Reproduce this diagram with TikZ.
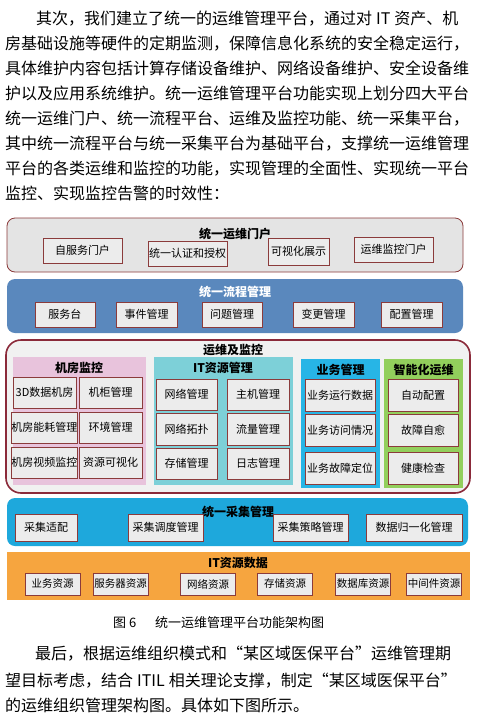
\documentclass[tikz,border=0pt]{standalone}
\usepackage{fontspec}
\usepackage{xcolor}
\newfontfamily\cjk{Noto Sans CJK SC}
\definecolor{brd}{HTML}{8B3B3B}
\definecolor{itemgray}{HTML}{ECECEC}
\definecolor{portalgray}{HTML}{E4E4E4}
\definecolor{flowblue}{HTML}{5A88BD}
\definecolor{monred}{HTML}{8B2A3A}
\definecolor{mongray}{HTML}{F1F1F1}
\definecolor{roompink}{HTML}{E8C3DC}
\definecolor{itteal}{HTML}{7DD0D8}
\definecolor{bizblue}{HTML}{27B5E6}
\definecolor{smartgreen}{HTML}{92CF5C}
\definecolor{collblue}{HTML}{1EA8DC}
\definecolor{dataorange}{HTML}{F6A53F}
% a little glue between CJK characters, so lines can be justified
\XeTeXinterchartokenstate=1
\XeTeXinterchartoks 1 1 = {\hskip 0pt plus 1pt}
\XeTeXinterchartoks 1 2 = {\hskip 0pt plus 1pt}
\XeTeXinterchartoks 1 3 = {\hskip 0pt plus 1pt}
\XeTeXinterchartoks 2 1 = {\hskip 0pt plus 1pt}
\XeTeXinterchartoks 3 1 = {\hskip 0pt plus 1pt}
\XeTeXinterchartoks 3 2 = {\hskip 0pt plus 1pt}
\XeTeXinterchartoks 3 3 = {\hskip 0pt plus 1pt}
\newcommand{\lsp}{\kern4pt}
\begin{document}
\begin{tikzpicture}[x=1pt, y=-1pt,
  para/.style={anchor=base west, inner sep=0pt, font=\cjk\fontsize{16}{16}\selectfont},
  item/.style={draw=brd, fill=itemgray, line width=0.8pt, inner sep=0pt,
    minimum width=#1, font=\cjk\fontsize{11}{11}\selectfont},
  title/.style={inner sep=0pt, font=\cjk\bfseries\fontsize{12}{12}\selectfont}]
\useasboundingbox (0,0) rectangle (481,721);
\fill[white] (0,0) rectangle (481,721);
% text above the figure
\node[para] (l1) at (36,24) {\makebox[434pt][s]{其次，我们建立了统一的运维管理平台，通过对\lsp IT\lsp 资产、机}};
\node[para] (l2) at (5,49) {\makebox[466pt][s]{房基础设施等硬件的定期监测，保障信息化系统的安全稳定运行，}};
\node[para] (l3) at (5,74) {\makebox[465pt][s]{具体维护内容包括计算存储设备维护、网络设备维护、安全设备维}};
\node[para] (l4) at (5,99) {\makebox[465pt][s]{护以及应用系统维护。统一运维管理平台功能实现上划分四大平台}};
\node[para] (l5) at (5,124) {\makebox[466pt][s]{统一运维门户、统一流程平台、运维及监控功能、统一采集平台，}};
\node[para] (l6) at (5,149) {\makebox[465pt][s]{其中统一流程平台与统一采集平台为基础平台，支撑统一运维管理}};
\node[para] (l7) at (5,174) {\makebox[465pt][s]{平台的各类运维和监控的功能，实现管理的全面性、实现统一平台}};
\node[para] (l8) at (5,199) {监控、实现监控告警的时效性：};
% unified portal
\draw[brd, fill=portalgray, line width=0.8pt, rounded corners=8pt] (7,218) rectangle (463,272);
\node[title] (portal) at (235,234) {统一运维门户};
\node[item=79pt, minimum height=25pt] (self) at (82.5,250.5) {自服务门户};
\node[item=79pt, minimum height=25pt] (auth) at (187.5,253.5) {统一认证和授权};
\node[item=61pt, minimum height=27pt] (vis) at (298.5,251.5) {可视化展示};
\node[item=79pt, minimum height=25pt] (monportal) at (393.5,249.5) {运维监控门户};
% unified process
\fill[flowblue, rounded corners=8pt] (7,279) rectangle (463,333);
\node[title, text=white] (flow) at (235,292) {统一流程管理};
\node[item=60pt, minimum height=25pt] (desk) at (65,314.5) {服务台};
\node[item=61pt, minimum height=25pt] (event) at (146.5,314.5) {事件管理};
\node[item=60pt, minimum height=25pt] (problem) at (232,314.5) {问题管理};
\node[item=61pt, minimum height=25pt] (change) at (323.5,314.5) {变更管理};
\node[item=61pt, minimum height=25pt] (config) at (411.5,314.5) {配置管理};
% operation and monitoring
\draw[monred, fill=mongray, line width=1.6pt, rounded corners=15pt] (6,340) rectangle (470,493);
\node[title] (mon) at (233,350) {运维及监控};
\fill[roompink] (13,357) rectangle (146,485);
\fill[itteal] (154,357) rectangle (293,485);
\fill[bizblue] (301,359) rectangle (380,488);
\fill[smartgreen] (384,359) rectangle (463,488);
\node[title] (room) at (79,368) {机房监控};
\node[title] (itres) at (223,368) {IT资源管理};
\node[title] (biz) at (340.5,370) {业务管理};
\node[title] (smart) at (423.5,370) {智能化运维};
\node[item=63pt, minimum height=31pt] (r1) at (44.5,392.5) {3D数据机房};
\node[item=63pt, minimum height=31pt] (r2) at (110.5,392.5) {机柜管理};
\node[item=63pt, minimum height=31pt] (r3) at (44.5,427.5) {机房能耗管理};
\node[item=63pt, minimum height=31pt] (r4) at (110.5,427.5) {环境管理};
\node[item=63pt, minimum height=31pt] (r5) at (44.5,462.5) {机房视频监控};
\node[item=63pt, minimum height=31pt] (r6) at (110.5,462.5) {资源可视化};
\node[item=61pt, minimum height=31pt] (t1) at (186.5,394.5) {网络管理};
\node[item=62pt, minimum height=31pt] (t2) at (258,394.5) {主机管理};
\node[item=61pt, minimum height=32pt] (t3) at (186.5,429) {网络拓扑};
\node[item=62pt, minimum height=32pt] (t4) at (258,429) {流量管理};
\node[item=61pt, minimum height=31pt] (t5) at (186.5,463.5) {存储管理};
\node[item=62pt, minimum height=31pt] (t6) at (258,463.5) {日志管理};
\node[item=70pt, minimum height=32pt] (b1) at (340,395) {业务运行数据};
\node[item=70pt, minimum height=32pt] (b2) at (340,430) {业务访问情况};
\node[item=70pt, minimum height=32pt] (b3) at (340,468) {业务故障定位};
\node[item=70pt, minimum height=32pt] (s1) at (423,395) {自动配置};
\node[item=70pt, minimum height=32pt] (s2) at (423,430) {故障自愈};
\node[item=70pt, minimum height=32pt] (s3) at (423,468) {健康检查};
% unified collection
\fill[collblue, rounded corners=8pt] (7,498) rectangle (468,546);
\node[title] (coll) at (238,512) {统一采集管理};
\node[item=62pt, minimum height=27pt] (adapt) at (46,527.5) {采集适配};
\node[item=75pt, minimum height=27pt] (sched) at (165.5,527.5) {采集调度管理};
\node[item=75pt, minimum height=27pt] (policy) at (310.5,527.5) {采集策略管理};
\node[item=96pt, minimum height=27pt] (norm) at (414,527.5) {数据归一化管理};
% IT resource data
\fill[dataorange] (7,552) rectangle (470,600);
\node[title] (data) at (238,563) {IT资源数据};
\foreach \name/\cx/\txt in {d1/52.5/业务资源, d2/120.5/服务器资源, d3/208/网络资源,
    d4/285/存储资源, d5/363/数据库资源, d6/434/中间件资源}
  \node[item=55pt, minimum height=22pt, font=\cjk\fontsize{10.5}{10.5}\selectfont] (\name) at (\cx,584) {\txt};
% caption
\node[para, font=\cjk\fontsize{13}{13}\selectfont] (capno) at (113,627) {图 6};
\node[para, font=\cjk\fontsize{13}{13}\selectfont] (cap) at (155,627) {\makebox[207pt][s]{统一运维管理平台功能架构图}};
% text below the figure
\node[para] (p1) at (35,659) {\makebox[435pt][s]{最后，根据运维组织模式和“某区域医保平台”运维管理期}};
\node[para] (p2) at (5,686) {\makebox[465pt][s]{望目标考虑，结合\lsp ITIL\lsp 相关理论支撑，制定“某区域医保平台”}};
\node[para] (p3) at (5,711) {的运维组织管理架构图。具体如下图所示。};
\end{tikzpicture}
\end{document}
